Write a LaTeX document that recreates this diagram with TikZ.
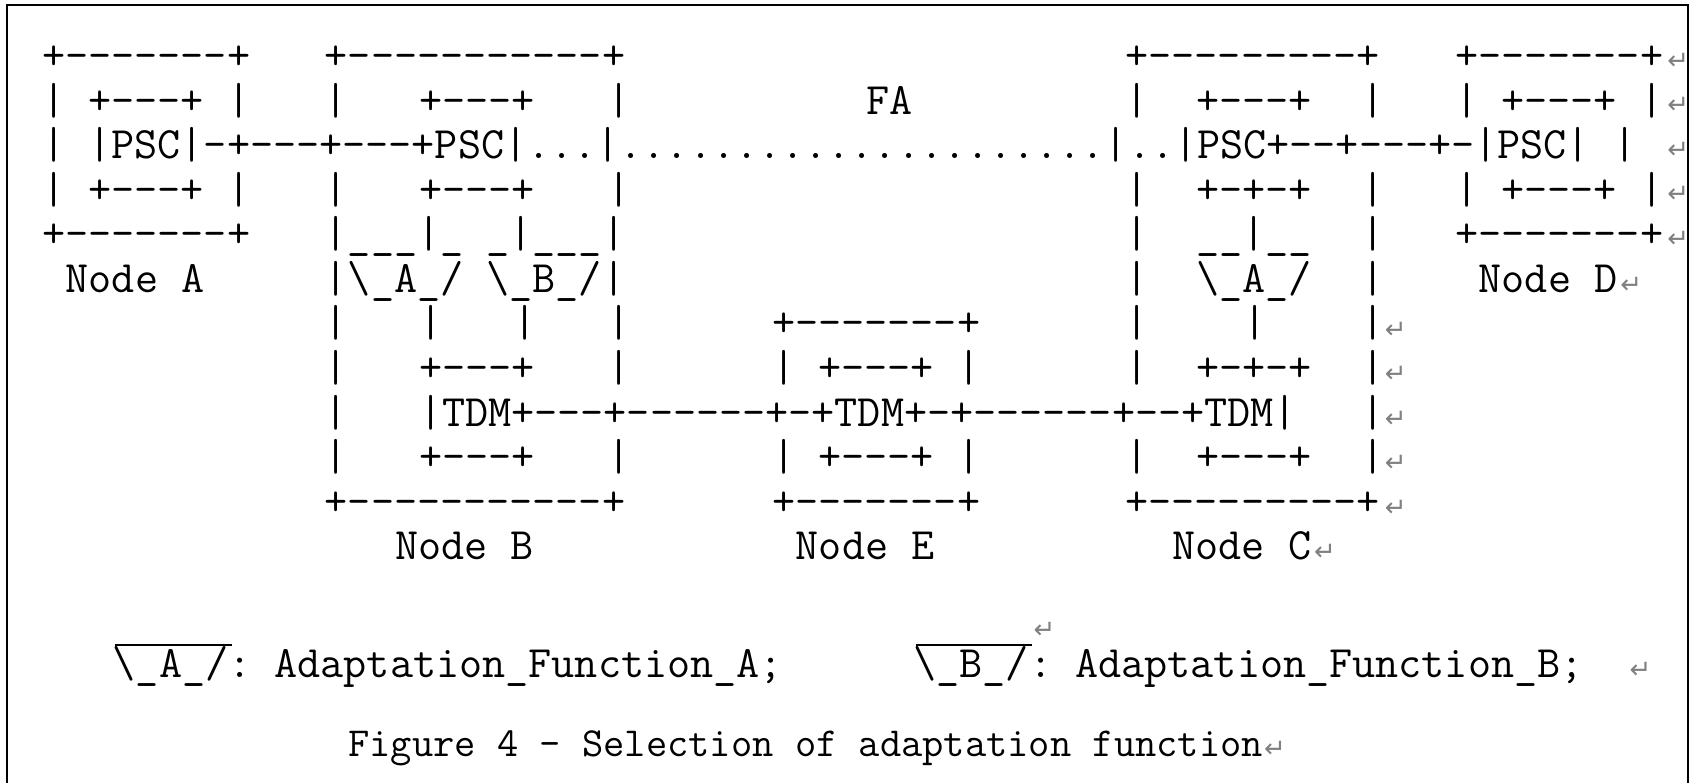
\documentclass[tikz,border=0pt]{standalone}
\usepackage{fontspec}
\newfontfamily\markfont{DejaVu Sans}
\newcommand{\colx}[1]{42.2+23.55*#1}
\newcommand{\rowy}[1]{70+44.5*(#1-1)}
\newcommand{\bs}{\textbackslash}

\tikzset{
	ascii/.style={font=\ttfamily\fontsize{44.86}{44.86}\selectfont\frenchspacing, anchor=base west, inner sep=0pt, outer sep=0pt},
	pmark/.style={font=\markfont\fontsize{26}{26}\selectfont, text=black!50, anchor=west, inner sep=0pt},
	overbar/.style={line width=2.4pt},
	frame/.style={line width=2.5pt}
}

\begin{document}
\begin{tikzpicture}[x=1pt,y=-1pt]
		\useasboundingbox (0,0) rectangle (1694,783);
		\draw[frame] (7,783) -- (7,5) -- (1688,5) -- (1688,783);

		\node[ascii] (r1a) at ({\colx{0}},{\rowy{1}}) {+-------+};
		\node[ascii] (r1b) at ({\colx{12}},{\rowy{1}}) {+-----------+};
		\node[ascii] (r1c) at ({\colx{46}},{\rowy{1}}) {+---------+};
		\node[ascii] (r1d) at ({\colx{60}},{\rowy{1}}) {+-------+};
		\node[pmark] (p1) at ({\colx{69}},{\rowy{1}-9}) {↵};

		\node[ascii] (r2a) at ({\colx{0}},{\rowy{2}}) {| +---+ |};
		\node[ascii] (r2b) at ({\colx{12}},{\rowy{2}}) {|};
		\node[ascii] (r2c) at ({\colx{16}},{\rowy{2}}) {+---+};
		\node[ascii] (r2d) at ({\colx{24}},{\rowy{2}}) {|};
		\node[ascii] (fa) at ({\colx{35}},{\rowy{2}}) {FA};
		\node[ascii] (r2e) at ({\colx{46}},{\rowy{2}}) {|};
		\node[ascii] (r2f) at ({\colx{49}},{\rowy{2}}) {+---+};
		\node[ascii] (r2g) at ({\colx{56}},{\rowy{2}}) {|};
		\node[ascii] (r2h) at ({\colx{60}},{\rowy{2}}) {| +---+ |};
		\node[pmark] (p2) at ({\colx{69}},{\rowy{2}-9}) {↵};

		\node[ascii] (r3a) at ({\colx{0}},{\rowy{3}}) {| |PSC|-+---+---+PSC|...|.....................|..|PSC+--+---+-|PSC| |};
		\node[pmark] (p3) at ({\colx{69}},{\rowy{3}-9}) {↵};

		\node[ascii] (r4a) at ({\colx{0}},{\rowy{4}}) {| +---+ |};
		\node[ascii] (r4b) at ({\colx{12}},{\rowy{4}}) {|};
		\node[ascii] (r4c) at ({\colx{16}},{\rowy{4}}) {+---+};
		\node[ascii] (r4d) at ({\colx{24}},{\rowy{4}}) {|};
		\node[ascii] (r4e) at ({\colx{46}},{\rowy{4}}) {|};
		\node[ascii] (r4f) at ({\colx{49}},{\rowy{4}}) {+-+-+};
		\node[ascii] (r4g) at ({\colx{56}},{\rowy{4}}) {|};
		\node[ascii] (r4h) at ({\colx{60}},{\rowy{4}}) {| +---+ |};
		\node[pmark] (p4) at ({\colx{69}},{\rowy{4}-9}) {↵};

		\node[ascii] (r5a) at ({\colx{0}},{\rowy{5}}) {+-------+};
		\node[ascii] (r5b) at ({\colx{12}},{\rowy{5}}) {|\_\_\_|\_ \_|\_\_\_|};
		\node[ascii] (r5c) at ({\colx{46}},{\rowy{5}}) {|};
		\node[ascii] (r5d) at ({\colx{49}},{\rowy{5}}) {\_\_|\_\_};
		\node[ascii] (r5e) at ({\colx{56}},{\rowy{5}}) {|};
		\node[ascii] (r5f) at ({\colx{60}},{\rowy{5}}) {+-------+};
		\node[pmark] (p5) at ({\colx{69}},{\rowy{5}-9}) {↵};

		\node[ascii] (nodeA) at ({\colx{1}},{\rowy{6}}) {Node A};
		\node[ascii] (r6b) at ({\colx{12}},{\rowy{6}}) {|\bs\_A\_/ \bs\_B\_/|};
		\node[ascii] (r6c) at ({\colx{46}},{\rowy{6}}) {|};
		\node[ascii] (r6d) at ({\colx{49}},{\rowy{6}}) {\bs\_A\_/};
		\node[ascii] (r6e) at ({\colx{56}},{\rowy{6}}) {|};
		\node[ascii] (nodeD) at ({\colx{61}},{\rowy{6}}) {Node D};
		\node[pmark] (p6) at ({\colx{67}},{\rowy{6}-7}) {↵};

		\node[ascii] (r7a) at ({\colx{12}},{\rowy{7}}) {|};
		\node[ascii] (r7b) at ({\colx{16}},{\rowy{7}}) {|};
		\node[ascii] (r7c) at ({\colx{20}},{\rowy{7}}) {|};
		\node[ascii] (r7d) at ({\colx{24}},{\rowy{7}}) {|};
		\node[ascii] (r7e) at ({\colx{31}},{\rowy{7}}) {+-------+};
		\node[ascii] (r7f) at ({\colx{46}},{\rowy{7}}) {|};
		\node[ascii] (r7g) at ({\colx{51}},{\rowy{7}}) {|};
		\node[ascii] (r7h) at ({\colx{56}},{\rowy{7}}) {|};
		\node[pmark] (p7) at ({\colx{57}},{\rowy{7}-7}) {↵};

		\node[ascii] (r8a) at ({\colx{12}},{\rowy{8}}) {|};
		\node[ascii] (r8b) at ({\colx{16}},{\rowy{8}}) {+---+};
		\node[ascii] (r8c) at ({\colx{24}},{\rowy{8}}) {|};
		\node[ascii] (r8d) at ({\colx{31}},{\rowy{8}}) {| +---+ |};
		\node[ascii] (r8e) at ({\colx{46}},{\rowy{8}}) {|};
		\node[ascii] (r8f) at ({\colx{49}},{\rowy{8}}) {+-+-+};
		\node[ascii] (r8g) at ({\colx{56}},{\rowy{8}}) {|};
		\node[pmark] (p8) at ({\colx{57}},{\rowy{8}-7}) {↵};

		\node[ascii] (r9a) at ({\colx{12}},{\rowy{9}}) {|};
		\node[ascii] (r9b) at ({\colx{16}},{\rowy{9}}) {|TDM+---+------+-+TDM+-+------+--+TDM|};
		\node[ascii] (r9c) at ({\colx{56}},{\rowy{9}}) {|};
		\node[pmark] (p9) at ({\colx{57}},{\rowy{9}-7}) {↵};

		\node[ascii] (r10a) at ({\colx{12}},{\rowy{10}}) {|};
		\node[ascii] (r10b) at ({\colx{16}},{\rowy{10}}) {+---+};
		\node[ascii] (r10c) at ({\colx{24}},{\rowy{10}}) {|};
		\node[ascii] (r10d) at ({\colx{31}},{\rowy{10}}) {| +---+ |};
		\node[ascii] (r10e) at ({\colx{46}},{\rowy{10}}) {|};
		\node[ascii] (r10f) at ({\colx{49}},{\rowy{10}}) {+---+};
		\node[ascii] (r10g) at ({\colx{56}},{\rowy{10}}) {|};
		\node[pmark] (p10) at ({\colx{57}},{\rowy{10}-7}) {↵};

		\node[ascii] (r11a) at ({\colx{12}},{\rowy{11}}) {+-----------+};
		\node[ascii] (r11b) at ({\colx{31}},{\rowy{11}}) {+-------+};
		\node[ascii] (r11c) at ({\colx{46}},{\rowy{11}}) {+---------+};
		\node[pmark] (p11) at ({\colx{57}},{\rowy{11}-7}) {↵};

		\node[ascii] (nodeB) at ({\colx{15}},{\rowy{12}}) {Node B};
		\node[ascii] (nodeE) at ({\colx{32}},{\rowy{12}}) {Node E};
		\node[ascii] (nodeC) at ({\colx{48}},{\rowy{12}}) {Node C};
		\node[pmark] (p12) at ({\colx{54}},{\rowy{12}-7}) {↵};

		\node[ascii] (keyA) at ({\colx{3}},677) {\bs\_A\_/: Adaptation\_Function\_A;};
		\node[ascii] (keyB) at ({\colx{37}},677) {\bs\_B\_/: Adaptation\_Function\_B;};
		\node[pmark] (p14) at ({\colx{67.4}},670) {↵};
		\coordinate (barA1) at ({\colx{3}+2},645);
		\coordinate (barA2) at ({\colx{8}+1},645);
		\coordinate (barB1) at ({\colx{37}+2},645);
		\coordinate (barB2) at ({\colx{42}+1},645);
		\draw[overbar] (barA1) -- (barA2);
		\draw[overbar] (barB1) -- (barB2);
		\node[pmark] (p13) at ([xshift=1pt]barB2) [yshift=15pt] {↵};

		\node[ascii, font=\ttfamily\fontsize{41.3}{41.3}\selectfont] (caption) at ({\colx{13}},756) {Figure 4 - Selection of adaptation function};
		\node[pmark] (p15) at ([xshift=1pt,yshift=7pt]caption.base east) {↵};
	\end{tikzpicture}
\end{document}
